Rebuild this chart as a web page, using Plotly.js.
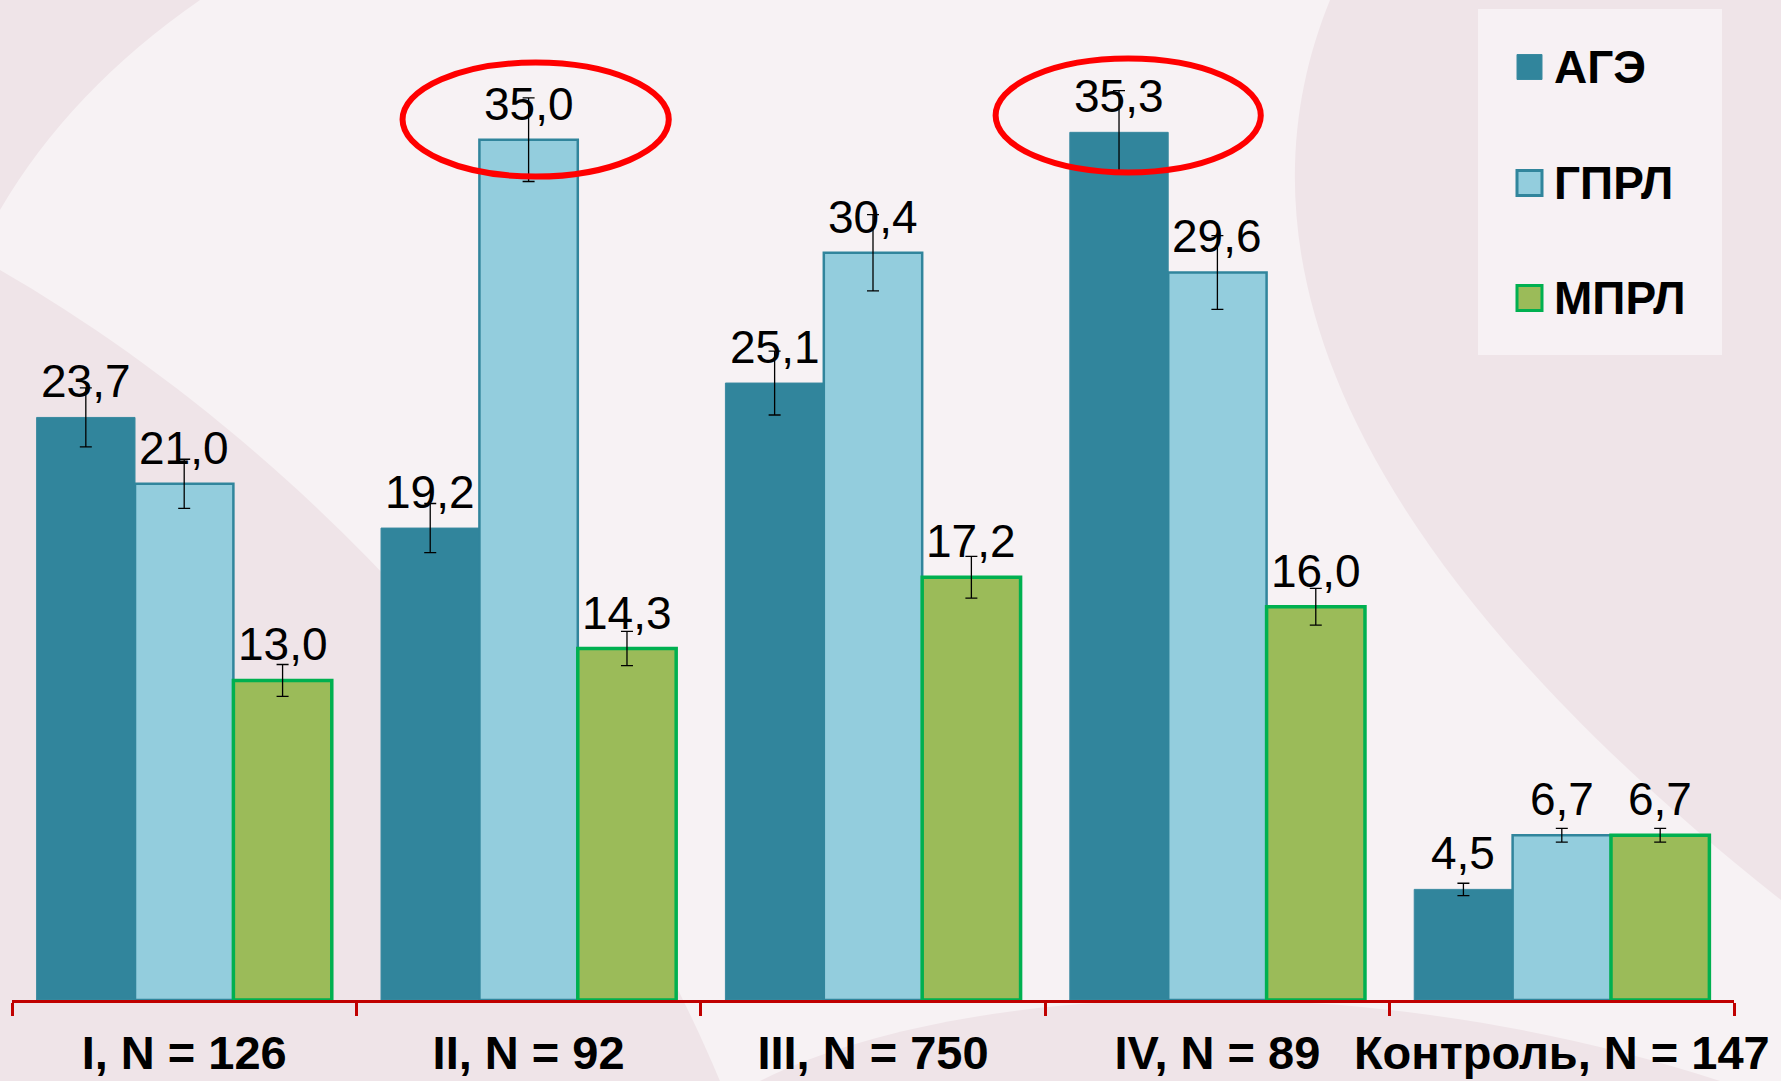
<!DOCTYPE html>
<html><head><meta charset="utf-8">
<script src="https://cdn.plot.ly/plotly-3.0.1.min.js"></script>
<style>html,body{margin:0;padding:0;background:#f7f2f4;overflow:hidden}#chart{width:1781px;height:1081px}</style>
</head><body><div id="chart"></div>
<script>
// ---- data ----
const categories = ['I, N = 126', 'II, N = 92', 'III, N = 750', 'IV, N = 89', 'Контроль, N = 147'];
const seriesNames = ['АГЭ', 'ГПРЛ', 'МПРЛ'];
const ageValues  = [23.7, 19.2, 25.1, 35.3, 4.5];
const gprlValues = [21.0, 35.0, 30.4, 29.6, 6.7];
const mprlValues = [13.0, 14.3, 17.2, 16.0, 6.7];
const ageErrors  = [1.2, 1.0, 1.3, 1.7, 0.25];
const gprlErrors = [1.0, 1.7, 1.55, 1.5, 0.28];
const mprlErrors = [0.65, 0.7, 0.85, 0.75, 0.28];

// ---- styling ----
const W = 1781, H = 1081;
const M = {l: 12, r: 47, t: 0, b: 81};
const PW = W - M.l - M.r, PH = H - M.t - M.b;
const px = x => (x - M.l) / PW;
const py = y => 1 - (y - M.t) / PH;
const pathPx = pts => pts.map(p => typeof p === 'string' ? p : (px(p[0]).toFixed(4) + ',' + py(p[1]).toFixed(4))).join(' ');

const BARGAP = 0.143;
const barPx = PW / categories.length * (1 - BARGAP) / seriesNames.length;

const fills = ['#31859c', '#93cddd', '#9bbb59'];
const lines = ['#3a8aa0', '#31859c', '#00b050'];
const lineW = [1, 2.5, 3.5];
const valueArrays = [ageValues, gprlValues, mprlValues];
const errArrays = [ageErrors, gprlErrors, mprlErrors];

const traces = seriesNames.map((name, i) => ({
  type: 'bar', name: name, x: categories, y: valueArrays[i],
  marker: {color: fills[i], line: {color: lines[i], width: lineW[i]}},
  error_y: {type: 'data', array: errArrays[i], visible: true, color: '#000', thickness: 1.3, width: 6},
  cliponaxis: false, showlegend: false, hoverinfo: 'skip'
}));

const pink = '#efe4e8';
const shapes = [
  // background decoration
  {type: 'path', xref: 'paper', yref: 'paper', layer: 'below', line: {width: 0}, fillcolor: pink,
   path: 'M' + pathPx([[0, 0], 'L', [200, 0], 'Q', [70, 90], [0, 210]]) + ' Z'},
  {type: 'path', xref: 'paper', yref: 'paper', layer: 'below', line: {width: 0}, fillcolor: pink,
   path: 'M' + pathPx([[0, 270], 'C', [260, 420], [560, 700], [720, 1081], 'L', [0, 1081]]) + ' Z'},
  {type: 'path', xref: 'paper', yref: 'paper', layer: 'below', line: {width: 0}, fillcolor: pink,
   path: 'M' + pathPx([[1330, 0], 'C', [1240, 220], [1300, 520], [1781, 900], 'L', [1781, 0]]) + ' Z'},
  {type: 'path', xref: 'paper', yref: 'paper', layer: 'below', line: {width: 0}, fillcolor: pink,
   path: 'M' + pathPx([[760, 1081], 'C', [950, 985], [1350, 960], [1720, 1081]]) + ' Z'},
  // legend box
  {type: 'rect', xref: 'paper', yref: 'paper', layer: 'below', line: {width: 0}, fillcolor: 'rgba(250,246,248,0.75)',
   x0: px(1478), x1: px(1722), y0: py(9), y1: py(355)},
  // red ellipses
  {type: 'circle', xref: 'x', yref: 'y', x0: 0.634, x1: 1.407, y0: 33.5, y1: 38.14, line: {color: '#ff0000', width: 6}},
  {type: 'circle', xref: 'x', yref: 'y', x0: 2.356, x1: 3.126, y0: 33.67, y1: 38.3, line: {color: '#ff0000', width: 6}}
];
const annotations = [];
// value labels above each bar
valueArrays.forEach((vals, i) => {
  vals.forEach((v, j) => {
    annotations.push({xref: 'x', yref: 'y', x: categories[j], y: v, xshift: (i - 1) * barPx, yshift: 8,
      xanchor: 'center', yanchor: 'bottom', showarrow: false, text: v.toFixed(1).replace('.', ','),
      font: {family: 'Liberation Sans, Arial, sans-serif', size: 46, color: '#000'}});
  });
});
// custom legend
const legendY = [67, 183, 298];
seriesNames.forEach((name, i) => {
  shapes.push({type: 'rect', xref: 'paper', yref: 'paper', fillcolor: fills[i],
    line: {color: lines[i], width: i === 0 ? 1 : 3},
    x0: px(1517), x1: px(1542), y0: py(legendY[i] - 12.5), y1: py(legendY[i] + 12.5)});
  annotations.push({xref: 'paper', yref: 'paper', x: px(1552), y: py(legendY[i]), xanchor: 'left', yanchor: 'middle',
    text: name, showarrow: false,
    font: {family: 'Liberation Sans, Arial, sans-serif', size: 46, color: '#000', weight: 'bold'}});
});

const layout = {
  width: W, height: H, margin: M,
  paper_bgcolor: '#f7f2f4', plot_bgcolor: 'rgba(0,0,0,0)',
  separators: ', ',
  barmode: 'group', bargap: BARGAP, bargroupgap: 0,
  showlegend: false,
  xaxis: {type: 'category', range: [-0.5, 4.5], showline: true, linecolor: '#c00000', linewidth: 3,
    ticks: 'outside', tickson: 'boundaries', ticklen: 13, tickwidth: 3, tickcolor: '#c00000',
    tickangle: 0, ticklabelstandoff: 10, showgrid: false, zeroline: false, fixedrange: true,
    tickfont: {family: 'Liberation Sans, Arial, sans-serif', size: 47, color: '#000', weight: 'bold'}},
  yaxis: {range: [0, PH / 24.58], visible: false, showgrid: false, zeroline: false, fixedrange: true},
  shapes: shapes, annotations: annotations
};
Plotly.newPlot('chart', traces, layout, {displayModeBar: false, staticPlot: true});
</script></body></html>
